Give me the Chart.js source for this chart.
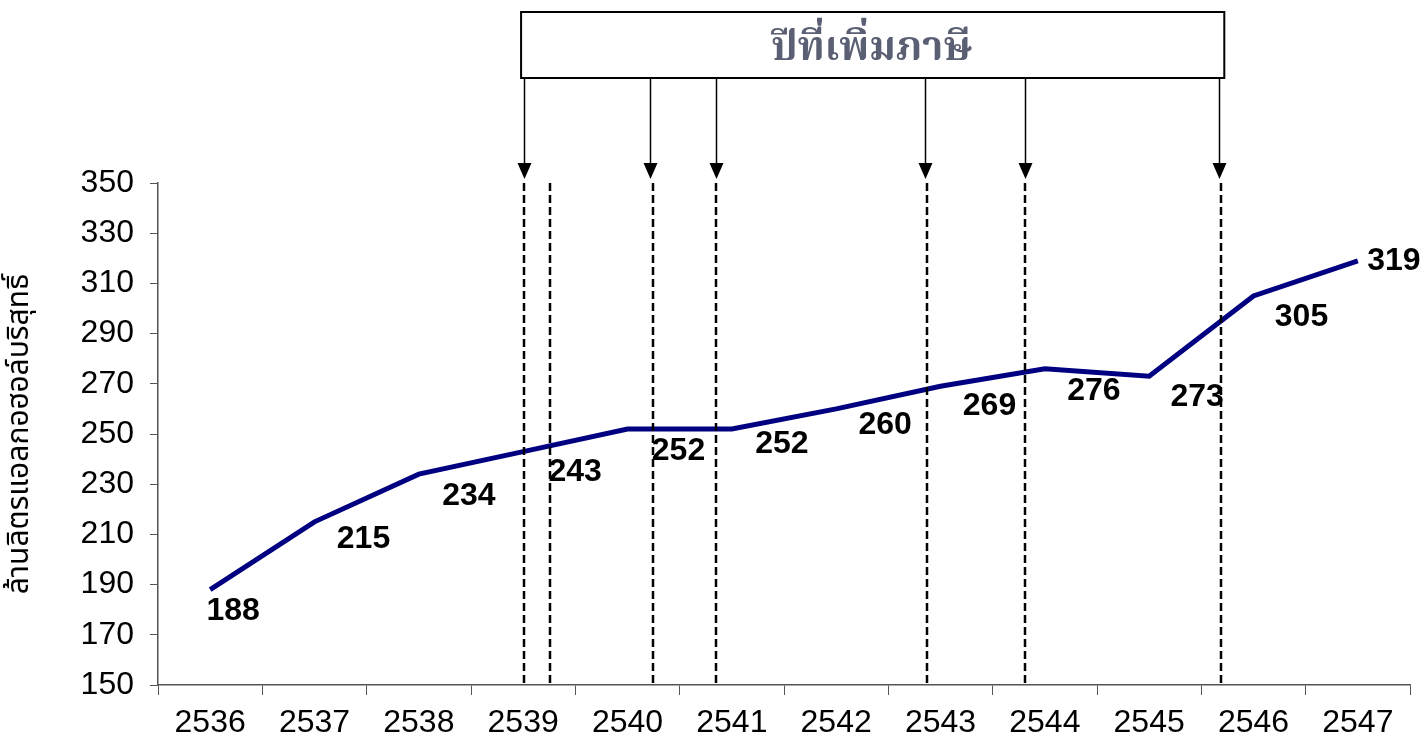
<!DOCTYPE html>
<html>
<head>
<meta charset="utf-8">
<script src="https://cdn.jsdelivr.net/npm/chart.js@4"></script>
<style>
  html, body { margin: 0; padding: 0; background: #fff; }
  #wrap { width: 1425px; height: 741px; position: relative; }
</style>
</head>
<body>
<div id="wrap"><canvas id="taxChart"></canvas></div>
<script>
// Data
const years = ['2536', '2537', '2538', '2539', '2540', '2541', '2542', '2543', '2544', '2545', '2546', '2547'];
const volume = [188, 215, 234, 243, 252, 252, 260, 269, 276, 273, 305, 319];
// tax increase moments, in category index units (fractional)
const taxMarks = [3.01, 3.26, 4.24, 4.85, 6.87, 7.81, 9.69];
const arrowMarks = [3.01, 4.22, 4.85, 6.85, 7.81, 9.67];
const boxTitle = 'ปีที่เพิ่มภาษี';
const yTitle = 'ล้านลิตรแอลกอฮอล์บริสุทธิ์';

// Label offsets (px) relative to each point
const labelOffsets = [[23, 22], [49, 17], [50, 22], [52, 21], [51, 22], [50, 15], [49, 16], [49, 20], [49, 22], [48, 21], [48, 21], [36, 0]];

const taxPlugin = {
  id: 'taxPlugin',
  afterDatasetsDraw(chart) {
    const ctx = chart.ctx;
    const x = chart.scales.x;
    const area = chart.chartArea;
    ctx.save();

    // dashed lines
    ctx.strokeStyle = '#000';
    ctx.lineWidth = 2.5;
    ctx.setLineDash([8, 4]);
    taxMarks.forEach(v => {
      const px = Math.round(x.getPixelForValue(v));
      ctx.beginPath();
      ctx.moveTo(px, area.top);
      ctx.lineTo(px, area.bottom);
      ctx.stroke();
    });
    ctx.setLineDash([]);

    // box
    const bx1 = x.getPixelForValue(2.98), bx2 = x.getPixelForValue(9.72);
    const by1 = 12, by2 = 78;
    ctx.fillStyle = '#fff';
    ctx.fillRect(bx1, by1, bx2 - bx1, by2 - by1);
    ctx.lineWidth = 2;
    ctx.strokeStyle = '#000';
    ctx.strokeRect(bx1, by1, bx2 - bx1, by2 - by1);
    ctx.fillStyle = '#5b5f73';
    ctx.font = 'bold 40px "Noto Serif Thai", "Noto Sans Thai", "Noto Sans", serif';
    ctx.textAlign = 'center';
    ctx.textBaseline = 'middle';
    ctx.fillText(boxTitle, (bx1 + bx2) / 2 - 1, (by1 + by2) / 2 + 8);

    // arrows
    ctx.lineWidth = 1.5;
    ctx.fillStyle = '#000';
    arrowMarks.forEach(v => {
      const px = Math.round(x.getPixelForValue(v)) + 0.5;
      ctx.beginPath();
      ctx.moveTo(px, by2);
      ctx.lineTo(px, area.top - 18);
      ctx.stroke();
      ctx.beginPath();
      ctx.moveTo(px - 7, area.top - 20);
      ctx.lineTo(px + 7, area.top - 20);
      ctx.lineTo(px, area.top - 4);
      ctx.closePath();
      ctx.fill();
    });

    // value labels
    const meta = chart.getDatasetMeta(0);
    ctx.fillStyle = '#000';
    ctx.font = 'bold 32px "Liberation Sans", Arial, sans-serif';
    ctx.textAlign = 'center';
    ctx.textBaseline = 'middle';
    meta.data.forEach((pt, i) => {
      const off = labelOffsets[i];
      ctx.fillText(String(volume[i]), pt.x + off[0], pt.y + off[1]);
    });
    ctx.restore();
  }
};

new Chart(document.getElementById('taxChart'), {
  type: 'line',
  data: {
    labels: years,
    datasets: [{
      data: volume,
      borderColor: '#000080',
      borderWidth: 5,
      pointRadius: 0,
      tension: 0,
      fill: false
    }]
  },
  options: {
    responsive: true,
    maintainAspectRatio: false,
    animation: false,
    layout: { padding: { top: 183, right: 15, left: 0, bottom: 0 } },
    plugins: {
      legend: { display: false },
      tooltip: { enabled: false }
    },
    scales: {
      x: {
        offset: true,
        border: { color: '#555', width: 1.5 },
        grid: { display: true, drawOnChartArea: false, drawTicks: true, tickLength: 10, color: '#555', offset: true },
        ticks: { color: '#000', font: { family: '"Liberation Sans", Arial, sans-serif', size: 32 }, padding: 9, maxRotation: 0, autoSkip: false },
        afterFit(scale) { scale.height = 56; }
      },
      y: {
        min: 150,
        max: 350,
        border: { color: '#555', width: 1.5 },
        grid: { display: true, drawOnChartArea: false, drawTicks: true, tickLength: 8, color: '#555' },
        ticks: { stepSize: 20, color: '#000', font: { family: '"Liberation Sans", Arial, sans-serif', size: 32 }, padding: 16 },
        title: { display: true, text: yTitle, color: '#000', font: { family: '"Noto Sans Thai", "Noto Sans", sans-serif', size: 30 }, padding: 4 },
        afterFit(scale) { scale.width = 158; }
      }
    }
  },
  plugins: [taxPlugin]
});
</script>
</body>
</html>
